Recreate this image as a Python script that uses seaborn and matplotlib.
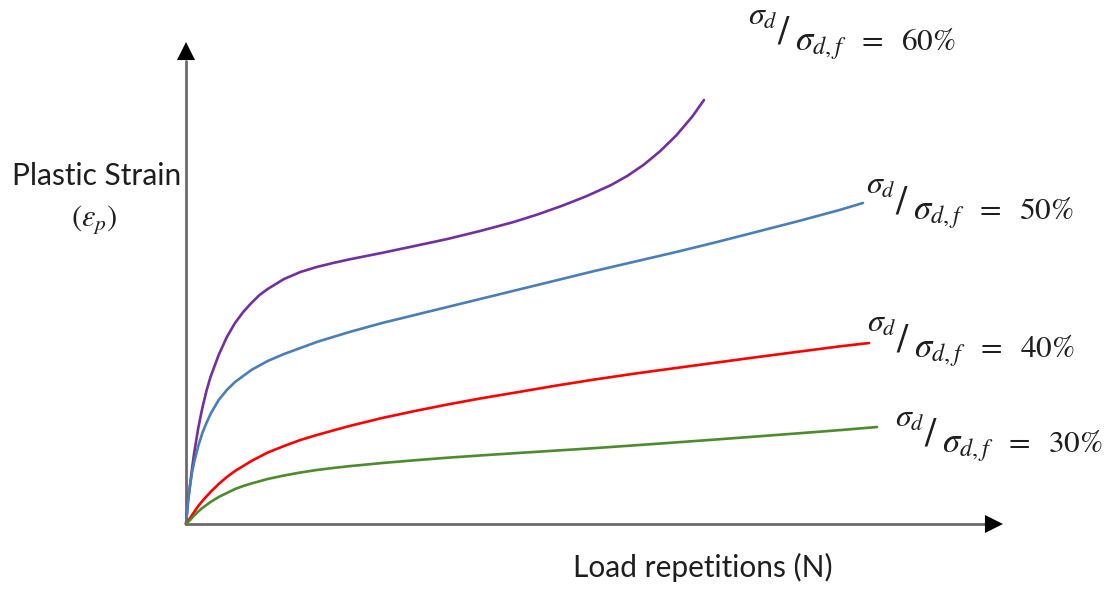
import matplotlib
matplotlib.use("Agg")
import matplotlib.pyplot as plt
import pandas as pd
import seaborn as sns

sns.set_style("white")
plt.rcParams["font.family"] = ["Lato", "DejaVu Sans"]
plt.rcParams["mathtext.fontset"] = "stix"

# Load repetitions N (relative scale, 0-100) and plastic strain (relative scale, 0-100)
n_60 = [0, 0.25, 0.5, 0.75, 1, 1.5, 2, 2.5, 3, 4, 5, 6, 7, 8, 9, 10, 12, 14, 16, 18,
        20, 24, 28, 32, 36, 40, 43, 46, 49, 52, 54, 56, 58, 60, 62, 63.4]
eps_60 = [0, 4.98, 8.09, 11.62, 14.73, 19.92, 24.07, 27.59, 30.50, 35.06, 38.80,
          41.70, 43.98, 45.85, 47.51, 48.76, 50.83, 52.28, 53.32, 54.15, 54.90,
          56.25, 57.68, 59.13, 60.79, 62.60, 64.20, 66.00, 68.00, 70.30, 72.20,
          74.50, 77.30, 80.60, 84.60, 87.97]

n_50 = [0, 0.25, 0.5, 0.75, 1, 1.5, 2, 2.5, 3, 4, 5, 6, 7, 8, 10, 12, 14, 16, 18,
        20, 24, 28, 32, 36, 40, 45, 50, 55, 60, 65, 70, 75, 80, 82.86]
eps_50 = [0, 4.56, 8.09, 10.79, 12.86, 16.18, 18.88, 20.95, 22.82, 25.73, 27.80,
          29.46, 30.71, 31.95, 33.82, 35.27, 36.51, 37.76, 38.80, 39.83, 41.70,
          43.36, 45.02, 46.68, 48.34, 50.41, 52.49, 54.46, 56.43, 58.51, 60.68,
          62.86, 65.15, 66.60]

n_40 = [0, 0.5, 1, 1.5, 2, 3, 4, 5, 6, 7, 8, 10, 12, 14, 16, 18, 20, 24, 28, 32,
        36, 40, 45, 50, 55, 60, 65, 70, 75, 80, 83.6]
eps_40 = [0, 1.24, 2.49, 3.73, 4.77, 6.64, 8.30, 9.75, 11.00, 12.03, 13.07, 14.83,
          16.18, 17.43, 18.46, 19.40, 20.33, 21.99, 23.44, 24.79, 26.04, 27.18,
          28.63, 29.98, 31.22, 32.37, 33.51, 34.65, 35.75, 36.85, 37.55]

n_30 = [0, 0.5, 1, 1.5, 2, 3, 4, 5, 6, 7, 8, 10, 12, 14, 16, 18, 20, 24, 28, 32,
        36, 40, 45, 50, 55, 60, 65, 70, 75, 80, 84.58]
eps_30 = [0, 0.83, 1.76, 2.59, 3.32, 4.56, 5.60, 6.43, 7.26, 7.88, 8.40, 9.34,
          10.06, 10.68, 11.20, 11.62, 12.00, 12.65, 13.22, 13.75, 14.22, 14.66,
          15.20, 15.74, 16.33, 16.93, 17.55, 18.18, 18.82, 19.47, 20.12]

ratios = ["60%", "50%", "40%", "30%"]
series = {"60%": (n_60, eps_60), "50%": (n_50, eps_50),
          "40%": (n_40, eps_40), "30%": (n_30, eps_30)}
colors = {"60%": "#7030A0", "50%": "#4A7EBB", "40%": "#FF0000", "30%": "#4E8A2E"}

# label anchors in figure pixels: left edge, baseline of the main line
label_pos = {"60%": (748, 50), "50%": (866, 219), "40%": (867, 357), "30%": (895, 452)}

W, H = 1112, 594
fig = plt.figure(figsize=(W / 100, H / 100), dpi=100)
ax = fig.add_axes([186 / W, 1 - 524 / H, (1003 - 186) / W, (524 - 42) / H])

df = pd.concat(
    [pd.DataFrame({"N": series[r][0], "strain": series[r][1], "ratio": r}) for r in ratios],
    ignore_index=True,
)
sns.lineplot(data=df, x="N", y="strain", hue="ratio", palette=colors,
             linewidth=1.9, legend=False, ax=ax, estimator=None, sort=False)
for ln in ax.lines:
    ln.set_clip_on(False)
    ln.set_solid_capstyle("round")
    ln.set_solid_joinstyle("round")

ax.set_xlim(0, 100)
ax.set_ylim(0, 100)
ax.axis("off")

# axes drawn as arrows: gray shaft, black head
ax.plot([0, 0.985], [0, 0], transform=ax.transAxes, color="#6b6b6b", lw=2.0,
        clip_on=False, zorder=1)
ax.plot([0, 0], [0, 0.96], transform=ax.transAxes, color="#6b6b6b", lw=2.0,
        clip_on=False, zorder=1)
head = dict(arrowstyle="-|>,head_length=1.0,head_width=0.5", mutation_scale=13,
            color="black", lw=0, shrinkA=0, shrinkB=0)
ax.annotate("", xy=(1, 0), xytext=(0.95, 0), xycoords="axes fraction", arrowprops=head)
ax.annotate("", xy=(0, 1), xytext=(0, 0.95), xycoords="axes fraction", arrowprops=head)


def fpos(x, y):
    return x / W, 1 - y / H


ink = "#1e1e1e"
fig.text(*fpos(97, 185), "Plastic Strain", ha="center", va="baseline",
         fontsize=21.5, color=ink)
fig.text(*fpos(94, 226), r"$(\varepsilon_p)$", ha="center", va="baseline",
         fontsize=22, color=ink)
fig.text(*fpos(703, 577), "Load repetitions (N)", ha="center", va="baseline",
         fontsize=21.5, color=ink)

for r in ratios:
    L, B = label_pos[r]
    fig.text(*fpos(L, B - 25), r"$\sigma_d$", ha="left", va="baseline",
             fontsize=23, color=ink)
    fig.text(*fpos(L + 29, B - 6), r"$/$", ha="left", va="baseline",
             fontsize=29, color=ink)
    fig.text(*fpos(L + 47, B), r"$\sigma_{d,f}$", ha="left", va="baseline",
             fontsize=25, color=ink)
    fig.text(*fpos(L + 109, B), r"$=\;\,\," + r[:-1] + r"\%$", ha="left",
             va="baseline", fontsize=22.5, color=ink)

fig.savefig("out.png", dpi=100, facecolor="white")
